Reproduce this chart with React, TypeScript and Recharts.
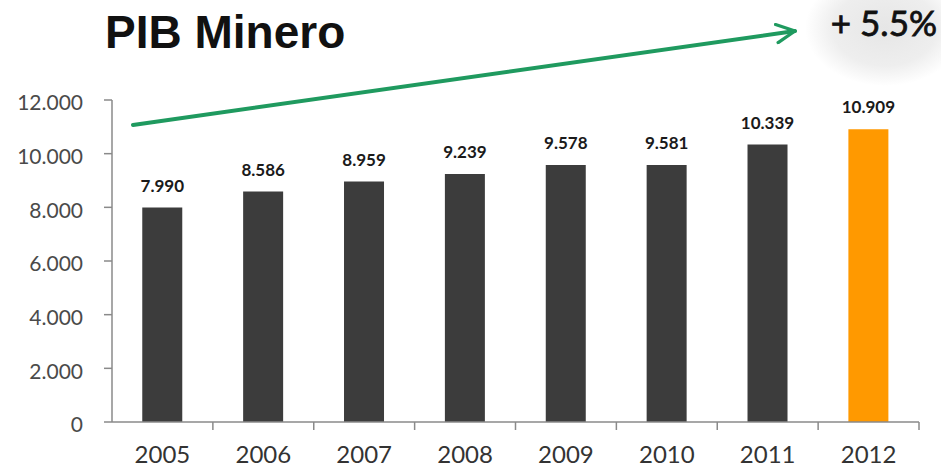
import React from "react";
import { BarChart, Bar, XAxis, YAxis, Cell, LabelList } from "recharts";

const years = ["2005", "2006", "2007", "2008", "2009", "2010", "2011", "2012"];
const pib = [7990, 8586, 8959, 9239, 9578, 9581, 10339, 10909];
const yTicks = [0, 2000, 4000, 6000, 8000, 10000, 12000];
const highlightYear = "2012";
const growthLabel = "+ 5.5%";
const title = "PIB Minero";

const W = 941;
const H = 467;
const MARGIN = { top: 100, right: 22, left: 0, bottom: 0 };
const Y_AXIS_W = 112;
const X_AXIS_H = 45;

const fmt = (v: number) => String(v).replace(/\B(?=(\d{3})+(?!\d))/g, ".");

const data = years.map((year, i) => ({ year, pib: pib[i] }));

const band = (W - MARGIN.right - Y_AXIS_W) / years.length;

const YearTick = (props: any) => {
  const { x, y, payload } = props;
  return (
    <g>
      <line x1={x + band / 2} x2={x + band / 2} y1={y} y2={y + 8} stroke="#8a8a8a" strokeWidth={1.5} />
      <text x={x} y={y + 41} textAnchor="middle" fontFamily="Lato" fontSize={24} fill="#333">
        {payload.value}
      </text>
    </g>
  );
};

export default function App() {
  return (
    <div style={{ position: "absolute", left: 0, top: 0, width: W, height: H, background: "#fff" }}>
      <svg width={W} height={H} style={{ position: "absolute", left: 0, top: 0 }}>
        <defs>
          <radialGradient id="badge" cx="50%" cy="50%" r="50%">
            <stop offset="0%" stopColor="#e6e6e6" />
            <stop offset="65%" stopColor="#eeeeee" />
            <stop offset="100%" stopColor="#ffffff" />
          </radialGradient>
        </defs>
        <ellipse cx={885} cy={28} rx={80} ry={58} fill="url(#badge)" />
      </svg>

      <div style={{ position: "absolute", left: 0, top: 0 }}>
        <BarChart width={W} height={H} data={data} margin={MARGIN} barCategoryGap="30%">
          <XAxis
            dataKey="year"
            height={X_AXIS_H}
            axisLine={{ stroke: "#8a8a8a", strokeWidth: 1.5 }}
            tickLine={false}
            tickSize={0}
            tickMargin={0}
            tick={<YearTick />}
            interval={0}
          />
          <YAxis
            width={Y_AXIS_W}
            domain={[0, 12000]}
            ticks={yTicks}
            tickFormatter={fmt}
            axisLine={{ stroke: "#8a8a8a", strokeWidth: 1.5 }}
            tickLine={{ stroke: "#8a8a8a", strokeWidth: 1.5 }}
            tickSize={8}
            tickMargin={21}
            tick={{ fontFamily: "Lato", fontSize: 21, fill: "#4a4a4a", dy: 3 }}
            interval={0}
          />
          <Bar dataKey="pib" isAnimationActive={false}>
            {data.map((d) => (
              <Cell key={d.year} fill={d.year === highlightYear ? "#ff9900" : "#3c3c3c"} />
            ))}
            <LabelList
              dataKey="pib"
              position="top"
              offset={16}
              formatter={(v: any) => fmt(Number(v))}
              style={{ fontFamily: "Lato", fontSize: 17, fontWeight: 700, fill: "#1a1a1a" }}
            />
          </Bar>
        </BarChart>
      </div>

      <svg width={W} height={H} style={{ position: "absolute", left: 0, top: 0, pointerEvents: "none" }}>
        <defs>
          <marker id="chev" viewBox="0 0 12 12" refX="11" refY="6" markerWidth="22" markerHeight="22" markerUnits="userSpaceOnUse" orient="auto">
            <path d="M1,1 L11,6 L1,11" fill="none" stroke="#1f9a5f" strokeWidth={1.8} strokeLinecap="round" strokeLinejoin="round" />
          </marker>
        </defs>
        <text x={105} y={48} fontFamily="Liberation Sans, Arial, sans-serif" fontWeight={700} fontSize={46} fill="#111">
          {title}
        </text>
        <line x1={133} y1={125} x2={795} y2={31} stroke="#1f9a5f" strokeWidth={4} strokeLinecap="round" markerEnd="url(#chev)" />
        <text x={937} y={36} textAnchor="end" fontFamily="Lato" fontSize={35} fill="#111" stroke="#111" strokeWidth={0.8}>
          {growthLabel}
        </text>
      </svg>
    </div>
  );
}
